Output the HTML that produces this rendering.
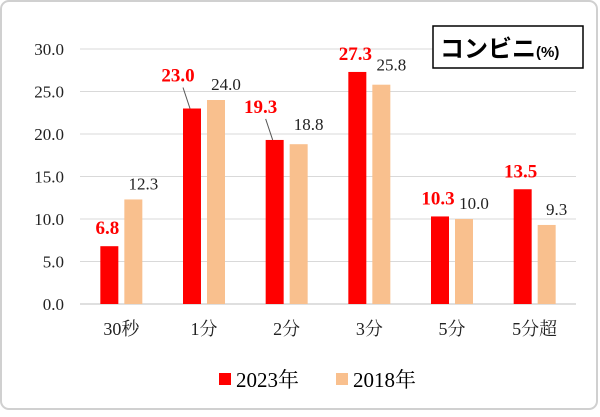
<!DOCTYPE html>
<html><head><meta charset="utf-8"><style>
body{margin:0;background:#fff;}
svg text{font-family:"Liberation Serif","Noto Serif CJK SC",serif;}
</style></head><body>
<svg width="600" height="412" xmlns="http://www.w3.org/2000/svg" id="chart">
<rect x="1" y="1" width="596" height="408" rx="8" fill="#fff" stroke="#d0d0d0" stroke-width="2"/>
<g id="grid"></g><g id="bars"></g><g id="labels"></g>
<rect x="433" y="26" width="150" height="42" fill="#fff" stroke="#000" stroke-width="1.5"/>
<text x="440" y="57" font-size="24" font-weight="bold" style='font-family:"Liberation Sans","Noto Sans CJK JP",sans-serif'>コンビニ<tspan font-size="15">(%)</tspan></text>
<g>
<rect x="219" y="373" width="12" height="12" fill="#ff0000"/>
<text x="236" y="387" font-size="21" style='font-family:"Liberation Serif","Noto Serif CJK JP",serif'>2023年</text>
<rect x="336" y="373" width="12" height="12" fill="#f9c08e"/>
<text x="353" y="387" font-size="21" style='font-family:"Liberation Serif","Noto Serif CJK JP",serif'>2018年</text>
</g>
</svg>
<script>
const categories=["30秒","1分","2分","3分","5分","5分超"];
const values2023=[6.8,23.0,19.3,27.3,10.3,13.5];
const values2018=[12.3,24.0,18.8,25.8,10.0,9.3];
const yTicks=[0,5,10,15,20,25,30];
const NS="http://www.w3.org/2000/svg";
const x0=80,x1=576,yZero=304,yTop=49,yMax=30;
const band=(x1-x0)/categories.length;
function y(v){return yZero-(v/yMax)*(yZero-yTop);}
function cx(i){return x0+band*(i+0.5);}
function mk(tag,attrs,parent){const e=document.createElementNS(NS,tag);for(const k in attrs)e.setAttribute(k,attrs[k]);parent.appendChild(e);return e;}
const grid=document.getElementById('grid'),bars=document.getElementById('bars'),labels=document.getElementById('labels');
yTicks.forEach(t=>{
 const l=mk('line',{x1:x0,x2:x1,y1:y(t),y2:y(t),stroke:t===0?'#bfbfbf':'#d9d9d9','stroke-width':1},grid);
 
 
 const tx=mk('text',{x:64,y:y(t)+6,'text-anchor':'end','font-size':17,fill:'#222'},grid);
 tx.textContent=t.toFixed(1);
 
 
});
categories.forEach((c,i)=>{
 const c0=cx(i);
 const r=mk('rect',{x:c0-21,y:y(values2023[i]),width:18,height:yZero-y(values2023[i]),fill:'#ff0000'},bars);
 
 
 const o=mk('rect',{x:c0+3,y:y(values2018[i]),width:18,height:yZero-y(values2018[i]),fill:'#f9c08e'},bars);
 
 
 const lab=mk('text',{x:c0,y:335,'text-anchor':'middle','font-size':18,fill:'#222'},labels);
 lab.textContent=c;
 
 
 const leader=(i===1||i===2);
 const ry=y(values2023[i])-(leader?27:12);
 const rx=leader?c0-26:c0-14;
 const rt=mk('text',{x:rx,y:ry,'text-anchor':'middle','font-size':19,'font-weight':'bold',fill:'#ff0000'},labels);
 rt.textContent=values2023[i].toFixed(1);
 
 
 if(leader){
  const ln=mk('line',{x1:rx+5,y1:ry+6,x2:c0-14,y2:y(values2023[i]),stroke:'#555','stroke-width':1},labels);
  
  
 }
 const oy=y(values2018[i])-(i===2||i===3?14:10);
 const ot=mk('text',{x:c0+22,y:oy,'text-anchor':'middle','font-size':17,fill:'#222'},labels);
 ot.textContent=values2018[i].toFixed(1);
 
 
});
</script>
</body></html>
